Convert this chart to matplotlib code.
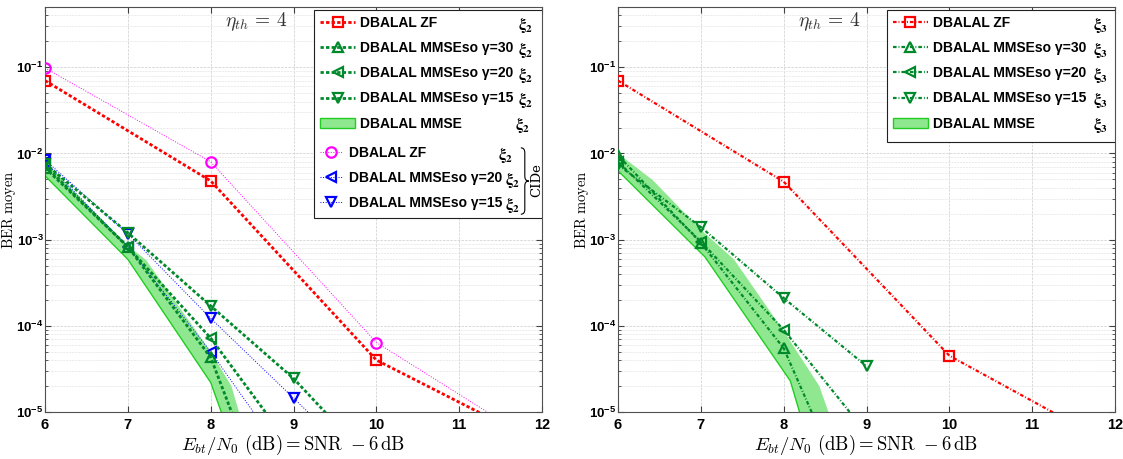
import numpy as np
import matplotlib
matplotlib.use('Agg')
from matplotlib import pyplot as plt
import matplotlib.ticker as mtick
from matplotlib.patches import Patch, PathPatch, Rectangle
from matplotlib.path import Path

plt.rcParams['font.family'] = ['Liberation Sans', 'DejaVu Sans']
plt.rcParams['font.weight'] = 'bold'
plt.rcParams['mathtext.fontset'] = 'custom'
plt.rcParams['mathtext.rm'] = 'Liberation Sans'
plt.rcParams['mathtext.bf'] = 'Liberation Sans:bold'
plt.rcParams['mathtext.it'] = 'Liberation Sans:italic'

# ---------------- data : xi_2 (gauche) ----------------
snr_zf = [6, 8, 10, 12]
ber_zf_2 = [7.0e-2, 4.8e-3, 4.0e-5, 4.2e-6]
ber_zf_cide_2 = [9.8e-2, 8.0e-3, 6.4e-5, 4.0e-6]

snr_g30_2 = [6, 7, 8, 9]
ber_g30_2 = [6.8e-3, 8.3e-4, 4.3e-5, 1.3e-7]
snr_g20_2 = [6, 7, 8, 9]
ber_g20_2 = [7.2e-3, 8.2e-4, 7.2e-5, 3.6e-6]
snr_g15_2 = [6, 7, 8, 9, 10]
ber_g15_2 = [7.6e-3, 1.2e-3, 1.7e-4, 2.45e-5, 2.3e-6]

snr_g20_cide_2 = [6, 7, 8, 9]
ber_g20_cide_2 = [8.0e-3, 8.3e-4, 5.0e-5, 2.2e-6]
snr_g15_cide_2 = [6, 7, 8, 9, 10]
ber_g15_cide_2 = [8.4e-3, 1.17e-3, 1.22e-4, 1.45e-5, 1.7e-6]

# bande MMSE (bord bas / bord haut)
snr_mmse_lo_2 = [6, 7, 8, 8.5]
ber_mmse_lo_2 = [5.5e-3, 5.9e-4, 2.2e-5, 1.0e-6]
snr_mmse_hi_2 = [6, 7, 7.22, 8, 8.25, 8.5]
ber_mmse_hi_2 = [8.0e-3, 8.5e-4, 5.8e-4, 5.0e-5, 2.0e-5, 3.0e-6]

# ---------------- data : xi_3 (droite) ----------------
ber_zf_3 = [7.0e-2, 4.7e-3, 4.5e-5, 4.0e-6]

snr_g30_3 = [6, 7, 8, 9]
ber_g30_3 = [9.5e-3, 9.2e-4, 5.5e-5, 3.5e-7]
snr_g20_3 = [6, 7, 8, 9]
ber_g20_3 = [8.0e-3, 9.5e-4, 9.0e-5, 5.7e-6]
snr_g15_3 = [6, 7, 8, 9]
ber_g15_3 = [7.4e-3, 1.4e-3, 2.1e-4, 3.4e-5]

snr_mmse_lo_3 = [6, 7.05, 8.08, 8.5]
ber_mmse_lo_3 = [6.3e-3, 6.3e-4, 2.3e-5, 1.0e-6]
snr_mmse_hi_3 = [6, 6.42, 7, 7.4, 8, 8.43, 8.7]
ber_mmse_hi_3 = [1.0e-2, 4.9e-3, 1.3e-3, 5.9e-4, 8.7e-5, 2.0e-5, 3.7e-6]

RED = '#ff0000'
GREEN = '#00892b'
BAND = '#8fe88f'
BANDLINE = '#22cc22'
MAG = '#ff00ff'
BLUE = '#0000ff'


def style_axes(ax):
    ax.set_yscale('log')
    ax.set_xlim(6, 12)
    ax.set_ylim(1e-5, 0.5)
    ax.set_xticks(range(6, 13))
    ax.xaxis.set_major_formatter(mtick.FuncFormatter(lambda v, p: '%d' % v))
    ax.yaxis.set_major_locator(mtick.LogLocator(base=10, numticks=10))
    ax.yaxis.set_minor_locator(mtick.LogLocator(base=10, subs=np.arange(2, 10), numticks=20))
    ax.yaxis.set_major_formatter(mtick.FuncFormatter(
        lambda v, p: r'$\mathbf{10^{%d}}$' % round(np.log10(v))))
    ax.yaxis.set_minor_formatter(mtick.NullFormatter())
    ax.tick_params(which='both', direction='in', top=True, right=True, colors='#404040')
    ax.tick_params(which='both', labelcolor='black')
    ax.tick_params(which='major', length=4)
    ax.tick_params(axis='x', which='major', pad=4, labelsize=10.5)
    ax.tick_params(axis='y', which='major', pad=1, labelsize=9.5)
    ax.tick_params(which='minor', length=2)
    ax.grid(True, which='major', ls='--', lw=0.5, color='#cccccc')
    ax.grid(True, which='minor', axis='y', ls='--', lw=0.4, color='#dddddd')
    for s in ax.spines.values():
        s.set_color('#505050')
        s.set_linewidth(0.8)
    ax.set_xlabel(r'$E_{bt}/N_0\ \mathrm{(dB)} = \mathrm{SNR}\ - 6\,\mathrm{dB}$',
                  math_fontfamily='cm', fontsize=13.5, labelpad=1)
    ax.set_ylabel(r'$\mathrm{BER\ moyen}$', math_fontfamily='cm', fontsize=10.5)
    ax.yaxis.set_label_coords(-0.054, 0.5)
    ax.text(0.425, 0.963, r'$\eta_{th}\,=\,4$', transform=ax.transAxes, math_fontfamily='cm',
            fontsize=14, color='#333333', ha='center', va='center')


def band(ax, x_lo, y_lo, x_hi, y_hi):
    ax.fill(list(x_lo) + list(x_hi)[::-1], list(y_lo) + list(y_hi)[::-1],
            facecolor=BAND, edgecolor='none', zorder=2)
    ax.plot(x_lo, y_lo, color=BANDLINE, lw=1.0, zorder=2.5)
    return Patch(facecolor=BAND, edgecolor=BANDLINE, lw=1.0)


def brace(ax, x0, x1, yt, yb, r):
    xm = (x0 + x1) / 2
    ym = (yt + yb) / 2
    verts = [(x0, yt), (xm, yt), (xm, yt - r), (xm, ym + r), (xm, ym), (x1, ym),
             (xm, ym), (xm, ym - r), (xm, yb + r), (xm, yb), (x0, yb)]
    codes = [Path.MOVETO, Path.CURVE3, Path.CURVE3, Path.LINETO, Path.CURVE3, Path.CURVE3,
             Path.CURVE3, Path.CURVE3, Path.LINETO, Path.CURVE3, Path.CURVE3]
    ax.add_patch(PathPatch(Path(verts, codes), transform=ax.transAxes, fill=False,
                           lw=0.8, color='black', zorder=7, clip_on=False))


fig = plt.figure(figsize=(11.23, 4.59), dpi=100)
ax1 = fig.add_axes([0.0401, 0.1024, 0.4426, 0.8823])
ax2 = fig.add_axes([0.5503, 0.1024, 0.4426, 0.8823])

mk = dict(ms=7.5, mew=1.6, mfc='none')
ls_thick = (0, (1.2, 0.8))

#%% gauche
style_axes(ax1)
h_band = band(ax1, snr_mmse_lo_2, ber_mmse_lo_2, snr_mmse_hi_2, ber_mmse_hi_2)
l_cz, = ax1.plot(snr_zf, ber_zf_cide_2, ls=':', lw=0.7, color=MAG, marker='o', zorder=3, **mk)
l_c20, = ax1.plot(snr_g20_cide_2, ber_g20_cide_2, ls=':', lw=0.7, color=BLUE, marker='<', zorder=3, **mk)
l_c15, = ax1.plot(snr_g15_cide_2, ber_g15_cide_2, ls=':', lw=0.7, color=BLUE, marker='v', zorder=3, **mk)
l_zf, = ax1.plot(snr_zf, ber_zf_2, ls=ls_thick, lw=2, color=RED, marker='s', zorder=4, **mk)
l_30, = ax1.plot(snr_g30_2, ber_g30_2, ls=ls_thick, lw=2, color=GREEN, marker='^', zorder=4, **mk)
l_20, = ax1.plot(snr_g20_2, ber_g20_2, ls=ls_thick, lw=2, color=GREEN, marker='<', zorder=4, **mk)
l_15, = ax1.plot(snr_g15_2, ber_g15_2, ls=ls_thick, lw=2, color=GREEN, marker='v', zorder=4, **mk)

leg_kw = dict(loc='upper left', borderaxespad=0, frameon=False,
              prop=dict(weight='bold', size=10), labelspacing=0.8, borderpad=0.45)
ax1.add_patch(Rectangle((0.541, 0.479), 0.459, 0.514, transform=ax1.transAxes,
                        facecolor='white', edgecolor='#202020', lw=0.8, zorder=5))
legA = ax1.legend([l_zf, l_30, l_20, l_15, h_band],
                  ['DBALAL ZF', 'DBALAL MMSEso γ=30', 'DBALAL MMSEso γ=20',
                   'DBALAL MMSEso γ=15', 'DBALAL MMSE'],
                  bbox_to_anchor=(0.541, 0.993), handlelength=2.5, handletextpad=0.35, **leg_kw)
legA.set_zorder(6)
ax1.add_artist(legA)
legB = ax1.legend([l_cz, l_c20, l_c15],
                  ['DBALAL ZF', 'DBALAL MMSEso γ=20', 'DBALAL MMSEso γ=15'],
                  bbox_to_anchor=(0.541, 0.672), handlelength=1.6, handletextpad=0.5, **leg_kw)
legB.set_zorder(6)

#%% droite
style_axes(ax2)
h_band3 = band(ax2, snr_mmse_lo_3, ber_mmse_lo_3, snr_mmse_hi_3, ber_mmse_hi_3)
ls_r = (0, (1.6, 0.9, 0.4, 0.9))
r_zf, = ax2.plot(snr_zf, ber_zf_3, ls=ls_r, lw=1.6, color=RED, marker='s', zorder=4, **mk)
r_30, = ax2.plot(snr_g30_3, ber_g30_3, ls=ls_r, lw=1.6, color=GREEN, marker='^', zorder=4, **mk)
r_20, = ax2.plot(snr_g20_3, ber_g20_3, ls=ls_r, lw=1.6, color=GREEN, marker='<', zorder=4, **mk)
r_15, = ax2.plot(snr_g15_3, ber_g15_3, ls=ls_r, lw=1.6, color=GREEN, marker='v', zorder=4, **mk)
ax2.add_patch(Rectangle((0.541, 0.667), 0.459, 0.326, transform=ax2.transAxes,
                        facecolor='white', edgecolor='#202020', lw=0.8, zorder=5))
legC = ax2.legend([r_zf, r_30, r_20, r_15, h_band3],
                  ['DBALAL ZF', 'DBALAL MMSEso γ=30', 'DBALAL MMSEso γ=20',
                   'DBALAL MMSEso γ=15', 'DBALAL MMSE'],
                  bbox_to_anchor=(0.541, 0.993), handlelength=2.5, handletextpad=0.35, **leg_kw)
legC.set_zorder(6)

# indices xi a droite des libelles
fig.canvas.draw()


def add_xi(ax, leg, xs, sub):
    inv = ax.transAxes.inverted()
    ys, xe = [], []
    for t, x in zip(leg.get_texts(), xs):
        bb = t.get_window_extent()
        x_end, y = inv.transform((bb.x1 + 2, (bb.y0 + bb.y1) / 2 - 2))
        x = max(x, x_end)
        ys.append(y)
        xi = ax.text(x, y, r'$\mathrm{\xi}_{%d}$' % sub, transform=ax.transAxes,
                     math_fontfamily='stix', fontweight='normal',
                     fontsize=11.5, ha='left', va='center', zorder=7)
        xe.append(inv.transform((xi.get_window_extent().x1, 0))[0])
    return ys, max(xe)


add_xi(ax1, legA, [0.952, 0.952, 0.952, 0.952, 0.946], 2)
yb, x_right = add_xi(ax1, legB, [0.912, 0.912, 0.912], 2)
add_xi(ax2, legC, [0.956] * 5, 3)
brace(ax1, x_right + 0.002, x_right + 0.018, yb[0] + 0.018, yb[-1] - 0.022, 0.012)
ax1.text(x_right + 0.034, (yb[0] + yb[-1]) / 2, 'CIDe', transform=ax1.transAxes, rotation=90,
         family='DejaVu Serif', fontweight='normal', fontsize=9.5, ha='center', va='center', zorder=7)

fig.savefig('out.png', dpi=100)
